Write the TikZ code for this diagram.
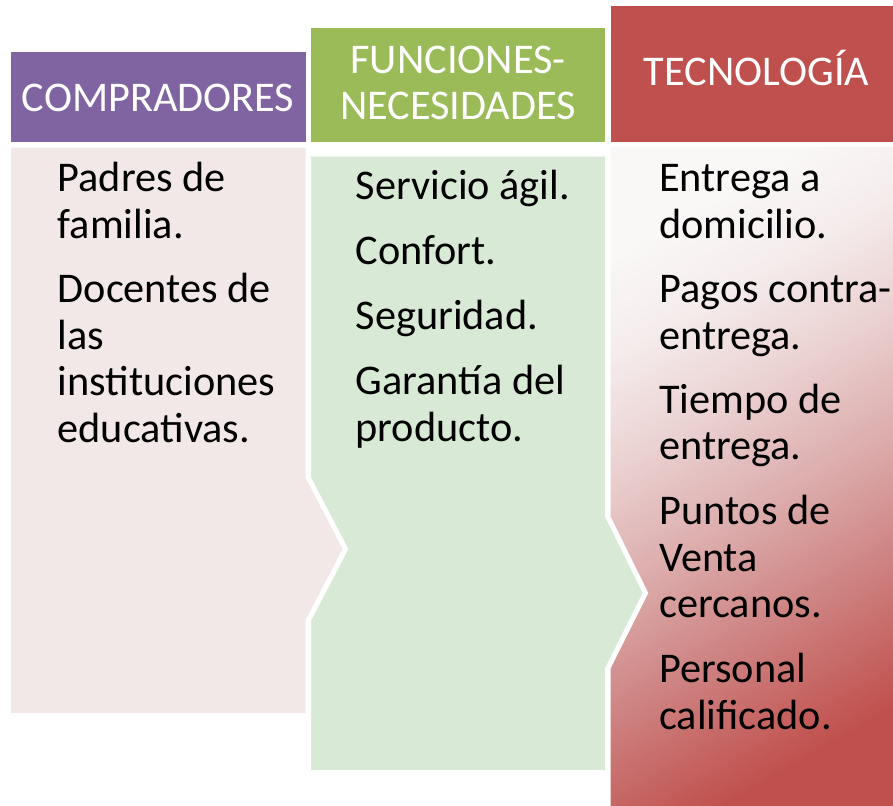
\documentclass[tikz,border=0pt]{standalone}
\usepackage{fontspec}
\setmainfont{Carlito}
\definecolor{cpurple}{HTML}{8064A2}
\definecolor{cgreen}{HTML}{9BBB59}
\definecolor{cred}{HTML}{C0504D}
\definecolor{cpink}{HTML}{F3E8E8}
\definecolor{cmint}{HTML}{D8EAD5}
\definecolor{rA}{HTML}{CE8584}
\definecolor{rB}{HTML}{DDAEAE}
\definecolor{rC}{HTML}{EBD2D2}
\definecolor{rD}{HTML}{F5ECEC}
\definecolor{rE}{HTML}{FAF7F7}
\pgfdeclareverticalshading{redgrad}{100bp}{color(0bp)=(cred); color(25bp)=(cred); color(38bp)=(rA); color(48bp)=(rB); color(58bp)=(rC); color(67bp)=(rD); color(75bp)=(rE); color(100bp)=(rE)}
\tikzset{
  body/.style={font=\fontsize{42.3}{46.7}\selectfont, align=left, inner sep=0pt, anchor=base west, text=black},
  hdrtext/.style={font=\fontsize{42.3}{46.7}\selectfont, align=center, inner sep=0pt, anchor=base, text=white},
  notch/.style={draw=white, line width=5pt, line join=miter}
}
\begin{document}
\begin{tikzpicture}[x=1pt, y=-1pt]
\useasboundingbox (0,0) rectangle (893,805);
\clip (0,0) rectangle (893,805);
% column 1
\fill[cpurple] (11,52.3) rectangle (305.5,141.7);
\fill[cpink] (11,147.7) -- (305.5,147.7) -- (305.5,478) -- (350,549) -- (305.5,620) -- (305.5,713) -- (11,713) -- cycle;
% column 2
\fill[cgreen] (310.7,28.3) rectangle (605,141.7);
\fill[cmint] (308.5,156.7) -- (605,156.7) -- (605,517) -- (650,593) -- (605,668) -- (605,770) -- (308.5,770) -- (308.5,620) -- (345.5,549) -- (308.5,478) -- cycle;
\draw[notch] (308.5,156.7) -- (308.5,478) -- (345.5,549) -- (308.5,620) -- (308.5,770);
% column 3
\fill[cred] (610.7,5.7) rectangle (905,141.7);
\shade[shading=redgrad, shading angle=30] (608,146.7) -- (905,146.7) -- (905,815) -- (608,815) -- (608,668) -- (645.5,593) -- (608,517) -- cycle;
\draw[notch] (608,146.7) -- (608,517) -- (645.5,593) -- (608,668) -- (608,815);
% headers
\node[hdrtext] (t1) at (158,111.7) {COMPRADORES};
\node[hdrtext] (t2) at (458,120) {FUNCIONES-\\NECESIDADES};
\node[hdrtext] (t3) at (756.5,85.7) {TECNOLOGÍA};
% column 1 text
\node[body] (a1) at (57.5,238.4) {Padres de\\familia.};
\node[body] (a2) at (57.5,442.4) {Docentes de\\las\\instituciones\\educativas.};
% column 2 text
\node[body] (b1) at (355.5,199.3) {Servicio ágil.};
\node[body] (b2) at (355.5,264.3) {Confort.};
\node[body] (b3) at (355.5,329.5) {Seguridad.};
\node[body] (b4) at (355.5,441.2) {Garantía del\\producto.};
% column 3 text
\node[body] (c1) at (659,238.3) {Entrega a\\domicilio.};
\node[body] (c2) at (659,349) {Pagos contra-\\entrega.};
\node[body] (c3) at (659,459.7) {Tiempo de\\entrega.};
\node[body] (c4) at (659,617.9) {Puntos de\\Venta\\cercanos.};
\node[body] (c5) at (659,729.2) {Personal\\calificado.};
\end{tikzpicture}
\end{document}
